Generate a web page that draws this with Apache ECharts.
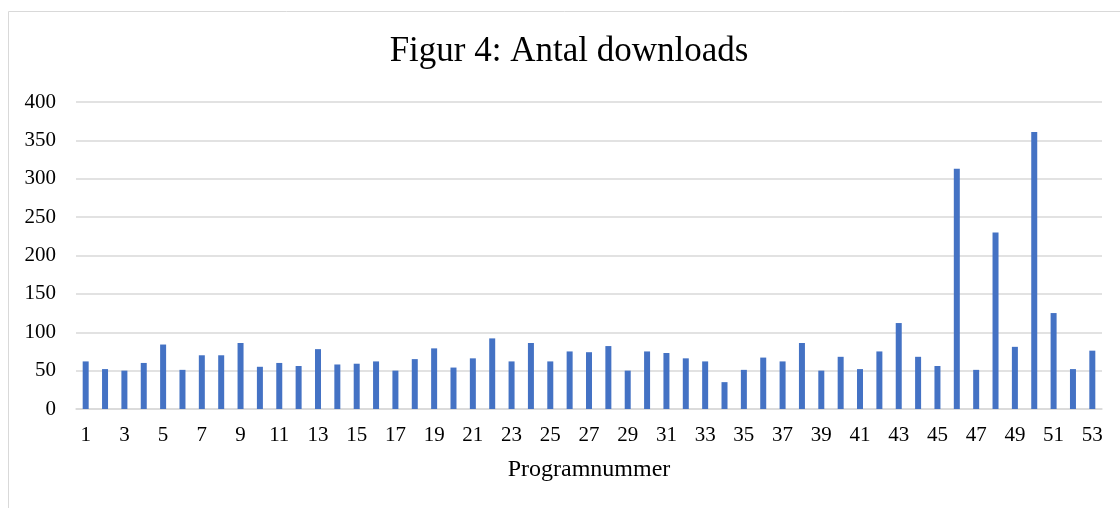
<!DOCTYPE html>
<html>
<head>
<meta charset="utf-8">
<title>Figur 4: Antal downloads</title>
<script src="https://cdn.jsdelivr.net/npm/echarts@6/dist/echarts.min.js"></script>
<style>
  html, body { margin: 0; padding: 0; background: #fff; }
  #chart { width: 1120px; height: 508px; }
</style>
</head>
<body>
<div id="chart"></div>
<script>
// Program numbers 1..53
const programs = [
  '1','2','3','4','5','6','7','8','9','10',
  '11','12','13','14','15','16','17','18','19','20',
  '21','22','23','24','25','26','27','28','29','30',
  '31','32','33','34','35','36','37','38','39','40',
  '41','42','43','44','45','46','47','48','49','50',
  '51','52','53'
];

// Number of downloads per program
const downloads = [
  62, 52, 50, 60, 84, 51, 70, 70, 86, 55,
  60, 56, 78, 58, 59, 62, 50, 65, 79, 54,
  66, 92, 62, 86, 62, 75, 74, 82, 50, 75,
  73, 66, 62, 35, 51, 67, 62, 86, 50, 68,
  52, 75, 112, 68, 56, 313, 51, 230, 81, 361,
  125, 52, 76
];

const yTicks = { min: 0, max: 400, interval: 50 };

const chart = echarts.init(document.getElementById('chart'));
const serif = "'Liberation Serif', 'Times New Roman', serif";

chart.setOption({
  animation: false,
  graphic: [
    {
      type: 'rect',
      shape: { x: 8.5, y: 11.5, width: 1140, height: 520 },
      style: { fill: 'none', stroke: '#D9D9D9', lineWidth: 1 },
      silent: true
    },
    {
      type: 'text',
      x: 569,
      y: 52,
      style: {
        text: 'Figur 4: Antal downloads',
        font: "35px " + serif,
        fill: '#000',
        textAlign: 'center',
        textVerticalAlign: 'middle'
      }
    }
  ],
  grid: { left: 76, right: 18, top: 102, bottom: 99 },
  xAxis: {
    type: 'category',
    data: programs,
    axisTick: { show: false },
    axisLine: { lineStyle: { color: '#D9D9D9', width: 1.5 } },
    axisLabel: {
      interval: 1,
      margin: 16,
      color: '#000',
      fontFamily: serif,
      fontSize: 21
    },
    name: 'Programnummer',
    nameLocation: 'middle',
    nameGap: 49,
    nameTextStyle: { color: '#000', fontFamily: serif, fontSize: 24 }
  },
  yAxis: {
    type: 'value',
    min: yTicks.min,
    max: yTicks.max,
    interval: yTicks.interval,
    axisLine: { show: false },
    axisTick: { show: false },
    splitLine: { lineStyle: { color: '#D9D9D9', width: 1.5 } },
    axisLabel: {
      margin: 20,
      color: '#000',
      fontFamily: serif,
      fontSize: 21
    }
  },
  series: [{
    type: 'bar',
    data: downloads,
    barWidth: 6,
    itemStyle: { color: '#4472C4' }
  }]
});
</script>
</body>
</html>
